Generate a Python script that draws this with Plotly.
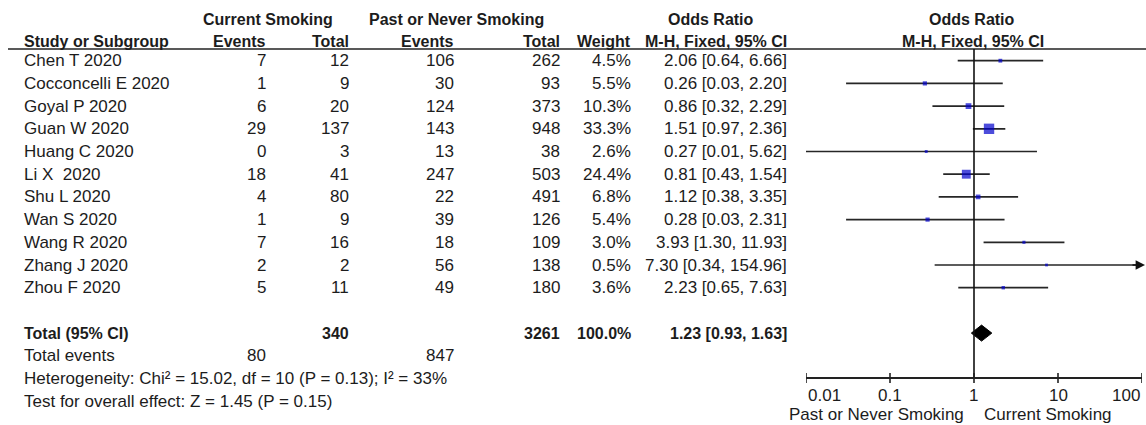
import math
import plotly.graph_objects as go

# ---- study-level data -------------------------------------------------------
studies = ["Chen T 2020", "Cocconcelli E 2020", "Goyal P 2020", "Guan W 2020",
           "Huang C 2020", "Li X \u00a02020", "Shu L 2020", "Wan S 2020",
           "Wang R 2020", "Zhang J 2020", "Zhou F 2020"]
cur_events = [7, 1, 6, 29, 0, 18, 4, 1, 7, 2, 5]
cur_total = [12, 9, 20, 137, 3, 41, 80, 9, 16, 2, 11]
past_events = [106, 30, 124, 143, 13, 247, 22, 39, 18, 56, 49]
past_total = [262, 93, 373, 948, 38, 503, 491, 126, 109, 138, 180]
weight = [4.5, 5.5, 10.3, 33.3, 2.6, 24.4, 6.8, 5.4, 3.0, 0.5, 3.6]
odds_ratio = [2.06, 0.26, 0.86, 1.51, 0.27, 0.81, 1.12, 0.28, 3.93, 7.30, 2.23]
ci_low = [0.64, 0.03, 0.32, 0.97, 0.01, 0.43, 0.38, 0.03, 1.30, 0.34, 0.65]
ci_high = [6.66, 2.20, 2.29, 2.36, 5.62, 1.54, 3.35, 2.31, 11.93, 154.96, 7.63]

# ---- pooled result -----------------------------------------------------------
pooled_or, pooled_low, pooled_high = 1.23, 0.93, 1.63
total_cur, total_past, total_weight = 340, 3261, 100.0
events_cur, events_past = 80, 847
heterogeneity = "Heterogeneity: Chi\u00b2 = 15.02, df = 10 (P = 0.13); I\u00b2 = 33%"
overall_effect = "Test for overall effect: Z = 1.45 (P = 0.15)"

tick_vals = [0.01, 0.1, 1, 10, 100]
tick_labels = ["0.01", "0.1", "1", "10", "100"]
favours_left = "Past or Never Smoking"
favours_right = "Current Smoking"

# ---- page geometry -----------------------------------------------------------
W, H = 1146, 425
ROW0, ROW_H = 60.7, 22.7           # pixel centre of first row, row pitch
FONT = "Liberation Sans, Arial, sans-serif"
TXT = "#1c1c1c"
AXIS_Y = 378                        # pixel row of the log axis
TOP_RULE = 49


def py(pix):
    """pixel row -> paper fraction"""
    return 1 - pix / H


def row_of(pix):
    return (pix - ROW0) / ROW_H


annotations = []


def cell(x, r, text, anchor="right", bold=False, size=None):
    if size is None:
        size = 16 if bold else 17
    annotations.append(dict(
        x=x, y=r, xref="x", yref="y", text=text, showarrow=False,
        xanchor=anchor, yanchor="middle",
        font=dict(family=FONT, size=size, color=TXT,
                  weight=("bold" if bold else "normal")),
    ))


# column positions (right edges unless noted)
X_NAME, X_CE, X_CT, X_PE, X_PT, X_W, X_OR = 22, 268, 351, 456, 562, 633, 789

# header lines
hr1, hr2 = row_of(19), row_of(41)
cell(268, hr1, "Current Smoking", "center", True)
cell(456, hr1, "Past or Never Smoking", "center", True)
cell(711, hr1, "Odds Ratio", "center", True)
cell(972, hr1, "Odds Ratio", "center", True)
cell(X_NAME, hr2, "Study or Subgroup", "left", True)
cell(X_CE, hr2, "Events", "right", True)
cell(X_CT, hr2, "Total", "right", True)
cell(X_PE, hr2, "Events", "right", True)
cell(X_PT, hr2, "Total", "right", True)
cell(X_W, hr2, "Weight", "right", True)
cell(X_OR, hr2, "M-H, Fixed, 95% CI", "right", True)
cell(973, hr2, "M-H, Fixed, 95% CI", "center", True)

# study rows
for i, name in enumerate(studies):
    cell(X_NAME, i, name, "left")
    cell(X_CE, i, str(cur_events[i]))
    cell(X_CT, i, str(cur_total[i]))
    cell(X_PE, i, str(past_events[i]))
    cell(X_PT, i, str(past_total[i]))
    cell(X_W, i, f"{weight[i]:.1f}%")
    cell(X_OR, i, f"{odds_ratio[i]:.2f} [{ci_low[i]:.2f}, {ci_high[i]:.2f}]")

# summary rows
r_tot = len(studies) + 1
cell(X_NAME, r_tot, "Total (95% CI)", "left", True)
cell(X_CT, r_tot, str(total_cur), "right", True)
cell(X_PT, r_tot, str(total_past), "right", True)
cell(X_W, r_tot, f"{total_weight:.1f}%", "right", True)
cell(X_OR, r_tot, f"{pooled_or:.2f} [{pooled_low:.2f}, {pooled_high:.2f}]", "right", True)
cell(X_NAME, r_tot + 1, "Total events", "left")
cell(X_CE, r_tot + 1, str(events_cur))
cell(X_PE, r_tot + 1, str(events_past))
cell(X_NAME, r_tot + 2, heterogeneity, "left")
cell(X_NAME, r_tot + 3, overall_effect, "left")

# ---- forest plot traces ------------------------------------------------------
AX_MIN, AX_MAX = tick_vals[0], tick_vals[-1]
ci_x, ci_y = [], []
for i in range(len(studies)):
    ci_x += [max(ci_low[i], AX_MIN), min(ci_high[i], AX_MAX), None]
    ci_y += [i, i, None]

fig = go.Figure()
fig.add_trace(go.Scatter(
    x=ci_x, y=ci_y, xaxis="x2", yaxis="y", mode="lines",
    line=dict(color="#262626", width=1.7), hoverinfo="skip", showlegend=False))

fig.add_trace(go.Scatter(
    x=odds_ratio, y=list(range(len(studies))), xaxis="x2", yaxis="y",
    mode="markers",
    marker=dict(symbol="square", color="#0000cc",
                size=[max(2.8, 1.8 * math.sqrt(w)) for w in weight],
                line=dict(width=0)),
    showlegend=False))

# pooled diamond
half_h = 8 / ROW_H
fig.add_trace(go.Scatter(
    x=[pooled_low, pooled_or, pooled_high, pooled_or, pooled_low],
    y=[r_tot, r_tot - half_h, r_tot, r_tot + half_h, r_tot],
    xaxis="x2", yaxis="y", mode="lines", fill="toself",
    fillcolor="#000000", line=dict(color="#000000", width=1),
    showlegend=False))

# arrows for intervals running past the axis
for i in range(len(studies)):
    if ci_high[i] > AX_MAX:
        annotations.append(dict(
            x=math.log10(AX_MAX), y=i, xref="x2", yref="y", ax=-14, ay=0,
            text="", showarrow=True, xshift=3,
            arrowhead=2, arrowsize=1.1, arrowwidth=1.7, arrowcolor="#111"))
    if ci_low[i] < AX_MIN:
        annotations.append(dict(
            x=math.log10(AX_MIN), y=i, xref="x2", yref="y", ax=14, ay=0,
            text="", showarrow=True, arrowhead=2, arrowsize=1.1,
            arrowwidth=1.7, arrowcolor="#111"))

# axis tick labels and favours labels
for v, lab in zip(tick_vals, tick_labels):
    anchor = "left" if v == tick_vals[0] else ("right" if v == tick_vals[-1] else "center")
    annotations.append(dict(
        x=math.log10(v), y=py(395), xref="x2", yref="paper", text=lab,
        showarrow=False, xanchor=anchor, yanchor="middle",
        font=dict(family=FONT, size=17, color=TXT)))
annotations.append(dict(
    x=0, y=py(414), xref="x2", yref="paper", text=favours_left, showarrow=False,
    xanchor="right", yanchor="middle", xshift=-8,
    font=dict(family=FONT, size=17, color=TXT)))
annotations.append(dict(
    x=0, y=py(414), xref="x2", yref="paper", text=favours_right, showarrow=False,
    xanchor="left", yanchor="middle", xshift=8,
    font=dict(family=FONT, size=17, color=TXT)))

shapes = [
    # header rule
    dict(type="line", xref="x", yref="paper", x0=8, x1=W,
         y0=py(TOP_RULE), y1=py(TOP_RULE), line=dict(color="#222", width=1.6)),
    # line of no effect
    dict(type="line", xref="x2", yref="paper", x0=1, x1=1,
         y0=py(TOP_RULE), y1=py(AXIS_Y), line=dict(color="#111", width=1.6)),
]
for v in tick_vals:
    shapes.append(dict(type="line", xref="x2", yref="paper", x0=v, x1=v,
                       y0=py(AXIS_Y - 5), y1=py(AXIS_Y + 5),
                       line=dict(color="#222", width=1.6)))

fig.update_layout(
    width=W, height=H,
    margin=dict(l=0, r=0, t=0, b=0),
    paper_bgcolor="white", plot_bgcolor="rgba(0,0,0,0)",
    xaxis=dict(range=[0, W], domain=[0, 1], visible=False, fixedrange=True),
    yaxis=dict(range=[row_of(H), row_of(0)], domain=[0, 1], visible=False,
               fixedrange=True),
    xaxis2=dict(type="log", range=[math.log10(AX_MIN), math.log10(AX_MAX)],
                domain=[806 / W, 1142 / W], anchor="free", position=py(AXIS_Y),
                showline=True, linecolor="#222", linewidth=1.6,
                ticks="", showticklabels=False, showgrid=False,
                zeroline=False, fixedrange=True),
    annotations=annotations,
    shapes=shapes,
    showlegend=False,
)

fig.write_html("out.html")
